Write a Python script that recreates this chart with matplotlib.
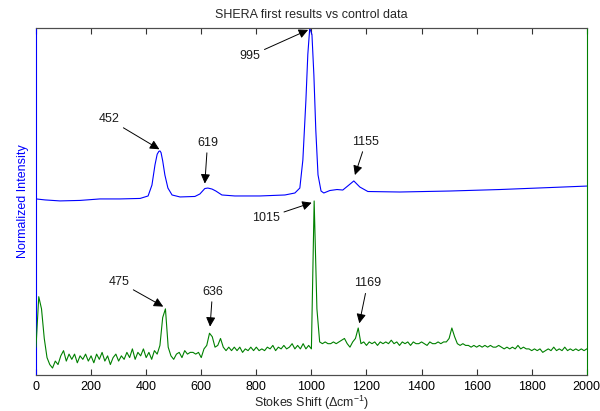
import numpy as np
import matplotlib
matplotlib.use("Agg")
import matplotlib.pyplot as plt

plt.rcParams['font.family'] = ['Liberation Sans', 'DejaVu Sans']
plt.rcParams['mathtext.fontset'] = 'custom'
plt.rcParams['mathtext.rm'] = 'Liberation Sans'
plt.rcParams['mathtext.it'] = 'Liberation Sans:italic'

# SHERA result (blue), normalized so the 995 peak is 1
blue_x = [0, 33, 87, 160, 232, 305, 378, 407, 421, 432, 440, 446, 450, 454, 460,
          468, 479, 494, 523, 577, 595, 613, 624, 639, 653, 675, 722, 813, 904,
          940, 958, 969, 980, 987, 994, 1002, 1009, 1016, 1024, 1035, 1045,
          1067, 1093, 1114, 1136, 1154, 1176, 1205, 1321, 1503, 1684, 1866, 2000]
blue_y = [-0.036, -0.042, -0.048, -0.045, -0.036, -0.036, -0.033, -0.018, 0.048,
          0.17, 0.235, 0.252, 0.255, 0.245, 0.195, 0.109, 0.03, -0.012, -0.024,
          -0.021, -0.006, 0.027, 0.03, 0.024, 0.012, -0.012, -0.018, -0.018,
          -0.012, 0.0, 0.03, 0.2, 0.56, 0.84, 1.0, 0.96, 0.715, 0.38, 0.11,
          0.012, 0.0, 0.015, 0.021, 0.018, 0.048, 0.073, 0.036, 0.009, 0.006,
          0.012, 0.021, 0.033, 0.042]

# control data (green), every 10 cm-1 from 0 to 2000
green_x = np.arange(0, 2001, 10)
green_y = [
    0.16, 0.45, 0.38, 0.21, 0.10, 0.06, 0.04, 0.08, 0.06, 0.11,
    0.14, 0.08, 0.12, 0.09, 0.12, 0.07, 0.11, 0.09, 0.12, 0.08,
    0.11, 0.07, 0.12, 0.09, 0.13, 0.08, 0.11, 0.06, 0.10, 0.12,
    0.08, 0.11, 0.09, 0.13, 0.10, 0.15, 0.09, 0.13, 0.11, 0.15,
    0.10, 0.13, 0.09, 0.14, 0.12, 0.17, 0.33, 0.38, 0.16, 0.11,
    0.09, 0.12, 0.13, 0.10, 0.14, 0.12, 0.13, 0.13, 0.12, 0.13,
    0.10, 0.15, 0.17, 0.24, 0.22, 0.16, 0.17, 0.21, 0.16, 0.14,
    0.16, 0.14, 0.16, 0.14, 0.16, 0.13, 0.15, 0.14, 0.16, 0.14,
    0.16, 0.14, 0.15, 0.14, 0.16, 0.15, 0.17, 0.14, 0.16, 0.15,
    0.17, 0.15, 0.16, 0.18, 0.15, 0.17, 0.15, 0.18, 0.15, 0.17,
    0.15, 1.00, 0.38, 0.19, 0.18, 0.19, 0.18, 0.18, 0.19, 0.18,
    0.19, 0.20, 0.21, 0.18, 0.16, 0.19, 0.21, 0.27, 0.18, 0.19,
    0.17, 0.19, 0.18, 0.19, 0.17, 0.19, 0.18, 0.19, 0.18, 0.20,
    0.18, 0.19, 0.17, 0.19, 0.18, 0.19, 0.17, 0.19, 0.18, 0.18,
    0.19, 0.18, 0.17, 0.19, 0.18, 0.18, 0.19, 0.18, 0.19, 0.19,
    0.21, 0.27, 0.22, 0.18, 0.17, 0.18, 0.17, 0.17, 0.16, 0.17,
    0.16, 0.17, 0.16, 0.17, 0.16, 0.17, 0.16, 0.16, 0.17, 0.16,
    0.15, 0.16, 0.15, 0.16, 0.15, 0.17, 0.15, 0.16, 0.15, 0.15,
    0.14, 0.15, 0.14, 0.15, 0.13, 0.14, 0.15, 0.14, 0.16, 0.14,
    0.15, 0.14, 0.16, 0.14, 0.15, 0.14, 0.15, 0.14, 0.15, 0.14,
    0.15]

xticks = [0, 200, 400, 600, 800, 1000, 1200, 1400, 1600, 1800, 2000]

# peak labels: text, tip (x, y) and text position, in green-axis units
peak_labels = ["452", "619", "995", "1015", "1155", "475", "636", "1169"]
peak_tips = [(448, 1.297), (613, 1.10), (988, 1.983), (1001, 0.99),
             (1158, 1.149), (462, 0.393), (632, 0.278), (1174, 0.297)]
label_pos = [(265, 1.47), (623, 1.335), (777, 1.833), (835, 0.902),
             (1198, 1.341), (301, 0.536), (641, 0.479), (1204, 0.527)]

fig = plt.figure(figsize=(6, 4.11), dpi=100)
ax1 = fig.add_axes([0.06, 0.0876, 0.918, 0.8443])
ax2 = ax1.twinx()

ax1.plot(blue_x, blue_y, color='#0000ff', lw=0.8)
ax2.plot(green_x, green_y, color='#008000', lw=0.8)

ax1.set_xlim(0, 2000)
ax1.set_ylim(-1.103, 1.0)
ax2.set_ylim(0, 1.994)
ax1.set_yticks([])
ax2.set_yticks([])
ax1.set_xticks(xticks)
ax1.tick_params(axis='x', direction='in', top=True, length=4, labelsize=9,
                pad=4, color='0.2')

for ax in (ax1, ax2):
    ax.spines['top'].set_color('0.3')
    ax.spines['bottom'].set_color('0.3')
ax1.spines['left'].set_color('#0000ff')
ax1.spines['right'].set_visible(False)
ax2.spines['left'].set_visible(False)
ax2.spines['right'].set_color('#008000')

ax1.set_title('SHERA first results vs control data', fontsize=9, pad=7,
              color='0.15')
ax1.set_xlabel(r'Stokes Shift ($\Delta$cm$^{-1}$)', fontsize=9, labelpad=1,
               color='0.15')
ax1.set_ylabel('Normalized Intensity', fontsize=9, color='#0000ff', labelpad=5)

for lab, tip, pos in zip(peak_labels, peak_tips, label_pos):
    ax2.annotate(lab, xy=tip, xytext=pos, ha='center', va='center',
                 fontsize=9, color='0.1',
                 arrowprops=dict(arrowstyle='-|>', color='k', lw=0.7,
                                 shrinkA=1, shrinkB=0, mutation_scale=14))

fig.savefig('out.png', dpi=100)
